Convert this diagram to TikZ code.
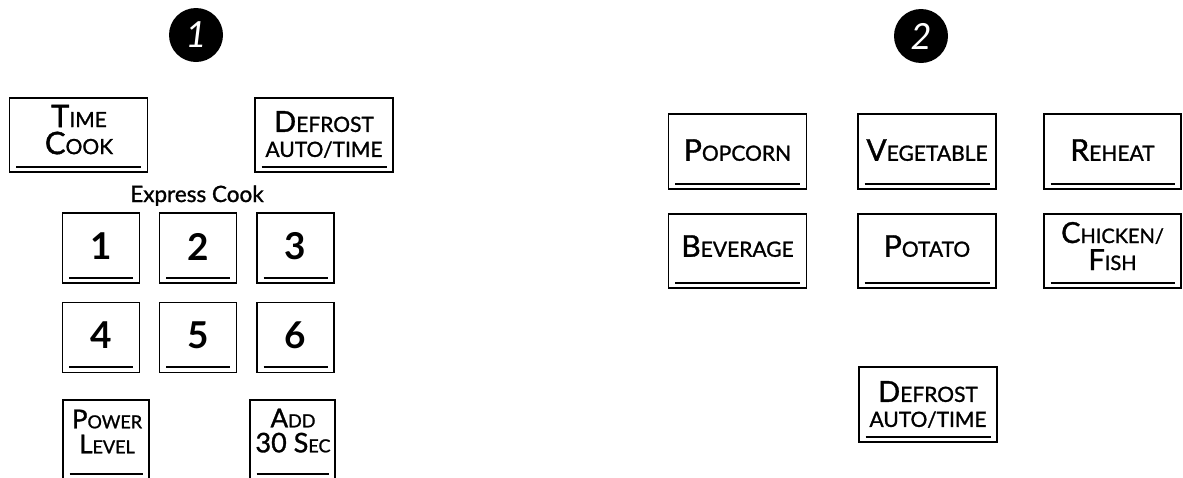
\documentclass[tikz,border=0pt]{standalone}
\usepackage{fontspec}
\setmainfont{Lato}
\newfontfamily\keyfont{Lato}[FakeBold=1.2]
\newcommand{\fs}[1]{\fontsize{#1}{#1}\selectfont}
\newcommand{\scp}[4]{{\fs{#1}#3}{\fs{#2}#4}}
\begin{document}
\begin{tikzpicture}[x=1pt,y=-1pt,
  key/.style={draw, line width=1.8pt, inner sep=0pt,
    path picture={\draw[line width=2pt]
      ([xshift=6.5pt,yshift=5.5pt]path picture bounding box.south west) --
      ([xshift=-6.5pt,yshift=5.5pt]path picture bounding box.south east);}},
  wide/.style={key, minimum width=138pt, minimum height=74pt},
  num/.style={key, minimum width=77pt, minimum height=70pt},
  lab/.style={inner sep=0pt, align=center, text depth=0pt},
  l27/.style={lab, font=\keyfont\fontsize{21}{27}\selectfont},
  l25/.style={lab, font=\keyfont\fontsize{21}{25}\selectfont},
  l1/.style={lab, font=\keyfont\fs{21}},
  digit/.style={inner sep=0pt, font=\bfseries\fs{37}},
  badge/.style={circle, fill=black, minimum size=54pt, inner sep=0pt, text=white, font=\itshape\fs{36}}
]
\useasboundingbox (0,0) rectangle (1183,477);

% badges
\node[badge] (b1) at (196,35) {1};
\node[badge] (b2) at (921,36) {2};

% panel 1
\node[wide] (tc) at (78.5,135) {};
\node[l27] (tct) at (79,129.5) {\scp{31}{21}{T}{IME}\\\scp{31}{21}{C}{OOK}};
\node[wide] (df1) at (324,135) {};
\node[l25] (df1t) at (324,134) {\scp{29}{21}{D}{EFROST}\\AUTO/TIME};

\node[inner sep=0pt, anchor=base, font=\keyfont\fs{22.5}] (ec) at (197,202) {Express Cook};

\node[num] (k1) at (101,248) {};
\node[num] (k2) at (198,248) {};
\node[num] (k3) at (295.5,248) {};
\node[num] (k4) at (101,337.5) {};
\node[num] (k5) at (198,337.5) {};
\node[num] (k6) at (295.5,337.5) {};
\node[digit] (k1t) at (101,246.5) {1};
\node[digit] (k2t) at (198,246.5) {2};
\node[digit] (k3t) at (295.5,246.5) {3};
\node[digit] (k4t) at (101,335.5) {4};
\node[digit] (k5t) at (198,335.5) {5};
\node[digit] (k6t) at (295.5,335.5) {6};

\node[key, minimum width=86pt, minimum height=79pt] (pl) at (106,439.5) {};
\node[l25] (plt) at (107,431.5) {\scp{26}{18}{P}{OWER}\\\scp{26}{18}{L}{EVEL}};
\node[key, minimum width=85pt, minimum height=79pt] (ad) at (292.5,439.5) {};
\node[l25] (adt) at (293,430.5) {\scp{26}{18}{A}{DD}\\\scp{27}{18}{30 S}{EC}};

% panel 2
\node[wide, minimum height=75pt] (pop) at (737.5,151.5) {};
\node[wide, minimum height=75pt] (veg) at (927,151.5) {};
\node[wide, minimum height=75pt, minimum width=137pt] (reh) at (1112.5,151.5) {};
\node[l1] (popt) at (737.5,150) {\scp{30}{21}{P}{OPCORN}};
\node[l1] (vegt) at (927,150) {\scp{30}{21}{V}{EGETABLE}};
\node[l1] (reht) at (1112.5,150) {\scp{30}{21}{R}{EHEAT}};

\node[wide] (bev) at (737.5,251) {};
\node[wide] (pot) at (927,251) {};
\node[wide, minimum width=137pt] (chi) at (1112.5,251) {};
\node[l1] (bevt) at (737.5,246) {\scp{30}{21}{B}{EVERAGE}};
\node[l1] (pott) at (927,246) {\scp{30}{21}{P}{OTATO}};
\node[l27] (chit) at (1112.5,246) {\scp{29}{20}{C}{HICKEN/}\\\scp{29}{20}{F}{ISH}};

\node[wide, minimum height=75pt] (df2) at (928,404.5) {};
\node[l25] (df2t) at (928,404) {\scp{29}{21}{D}{EFROST}\\AUTO/TIME};
\end{tikzpicture}
\end{document}
